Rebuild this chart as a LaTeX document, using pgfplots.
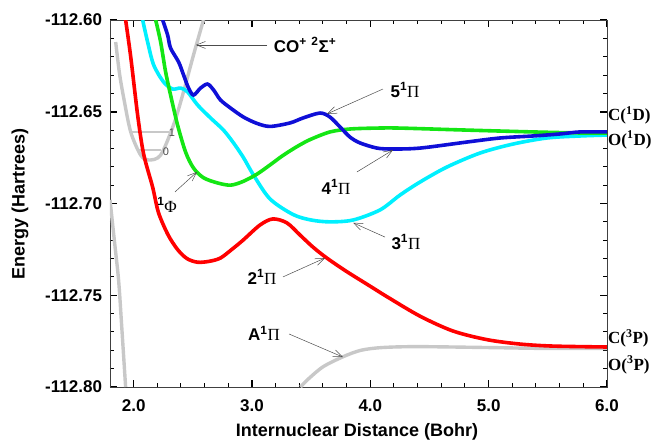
\documentclass[border=0pt]{standalone}
\usepackage{fontspec}
\setmainfont{Liberation Sans}
\newfontfamily\serif{Liberation Serif}
\usepackage{pgfplots}
\pgfplotsset{compat=1.18}
\usetikzlibrary{arrows.meta}

\definecolor{cred}{RGB}{255,0,0}
\definecolor{cgreen}{RGB}{20,230,20}
\definecolor{ccyan}{RGB}{0,240,255}
\definecolor{cblue}{RGB}{15,15,215}
\definecolor{cgray}{RGB}{200,200,200}

\tikzset{
  lbl/.style={font=\fontsize{17}{20}\selectfont, inner sep=0pt},
  arr/.style={draw=black!70, line width=0.5pt, -{Straight Barb[length=9pt,width=7pt]}},
  rlbl/.style={anchor=west, inner sep=0pt, font=\fontsize{17}{20}\selectfont\serif\bfseries},
}

\begin{document}
\begin{tikzpicture}
\useasboundingbox (-110pt,-58pt) rectangle (543pt,387pt);
\begin{axis}[
    scale only axis,
    width=497pt, height=367pt,
    at={(0,0)}, anchor=south west,
    xmin=1.8, xmax=6.0,
    ymin=-112.80, ymax=-112.60,
    xtick={2,3,4,5,6},
    xticklabels={2.0,3.0,4.0,5.0,6.0},
    ytick={-112.80,-112.75,-112.70,-112.65,-112.60},
    yticklabels={-112.80,-112.75,-112.70,-112.65,-112.60},
    minor x tick num=4,
    minor y tick num=4,
    tick align=inside,
    major tick length=7pt,
    minor tick length=4pt,
    major tick style={line width=1.5pt, black},
    minor tick style={line width=1pt, black},
    axis line style={line width=0.8pt, black!75},
    ticklabel style={font=\fontsize{17}{20}\selectfont\bfseries},
    yticklabel style={xshift=-4.5pt},
    xticklabel style={yshift=-9pt},
    xlabel={\bfseries Internuclear Distance (Bohr)},
    ylabel={\bfseries Energy (Hartrees)},
    label style={font=\fontsize{18}{21}\selectfont},
    xlabel style={at={(axis description cs:0.497,-0.1226)}, anchor=center},
    ylabel style={at={(axis description cs:-0.181,0.5)}, anchor=center},
    clip mode=individual,
    every axis plot/.append style={smooth, tension=0.5},
]

% ground state repulsive wall (left)
\addplot[cgray, line width=3.4pt] coordinates {
    (1.800,-112.698) (1.840,-112.722) (1.873,-112.742) (1.900,-112.768) (1.932,-112.800)
};

% CO+ 2Sigma+
\addplot[cgray, line width=3.4pt] coordinates {
    (1.848,-112.612) (1.880,-112.629) (1.916,-112.6425) (1.975,-112.661)
    (2.059,-112.6736) (2.127,-112.6763) (2.228,-112.6736) (2.338,-112.657)
    (2.422,-112.639) (2.506,-112.619) (2.590,-112.600)
};
% vibrational levels
\addplot[cgray, line width=2pt, sharp plot] coordinates {(1.975,-112.661) (2.300,-112.661)};
\addplot[cgray, line width=2pt, sharp plot] coordinates {(2.045,-112.671) (2.232,-112.671)};

% A1Pi
\addplot[cgray, line width=3.4pt] coordinates {
    (3.410,-112.800) (3.470,-112.796) (3.600,-112.789) (3.770,-112.7835)
    (3.920,-112.780) (4.100,-112.7785) (4.400,-112.778) (5.000,-112.7785)
    (5.500,-112.779) (6.000,-112.779)
};

% 3 1Pi (cyan)
\addplot[ccyan, line width=3.6pt] coordinates {
    (2.076,-112.600) (2.118,-112.612) (2.169,-112.6245) (2.253,-112.6338)
    (2.329,-112.6376) (2.397,-112.6371) (2.456,-112.6392) (2.540,-112.6463)
    (2.650,-112.6534) (2.759,-112.660) (2.844,-112.667) (2.928,-112.675)
    (3.013,-112.6845) (3.152,-112.6975) (3.347,-112.7060) (3.500,-112.7090)
    (3.659,-112.710) (3.854,-112.709) (4.082,-112.7035) (4.251,-112.6954)
    (4.420,-112.6883) (4.648,-112.6801) (4.927,-112.6725) (5.206,-112.6676)
    (5.493,-112.6643) (5.772,-112.6632) (6.000,-112.6627)
};

% 1Phi / 4 1Pi (green)
\addplot[cgreen, line width=3.6pt] coordinates {
    (2.186,-112.600) (2.228,-112.612) (2.270,-112.6283) (2.312,-112.6409)
    (2.371,-112.6572) (2.439,-112.672) (2.506,-112.6807) (2.591,-112.686)
    (2.709,-112.6888) (2.819,-112.690) (2.924,-112.6880) (3.042,-112.6840)
    (3.152,-112.6790) (3.262,-112.6738) (3.380,-112.6690) (3.490,-112.6652)
    (3.659,-112.661) (3.828,-112.6594) (4.056,-112.6589) (4.251,-112.6589)
    (4.817,-112.660) (5.375,-112.661) (5.797,-112.6616) (6.000,-112.6616)
};

% 5 1Pi (blue)
\addplot[cblue, line width=3.6pt] coordinates {
    (2.245,-112.600) (2.287,-112.6082) (2.312,-112.6153) (2.380,-112.6229)
    (2.422,-112.630) (2.464,-112.6371) (2.506,-112.6409) (2.565,-112.6371)
    (2.624,-112.6349) (2.675,-112.6381) (2.734,-112.6436) (2.819,-112.648)
    (2.928,-112.6529) (3.040,-112.6563) (3.152,-112.6580) (3.321,-112.6561)
    (3.431,-112.6534) (3.575,-112.6507) (3.659,-112.6529) (3.744,-112.6583)
    (3.828,-112.6638) (3.913,-112.667) (4.056,-112.6698) (4.192,-112.6703)
    (4.420,-112.6698) (4.817,-112.6665) (5.096,-112.6643) (5.375,-112.6632)
    (5.603,-112.6621) (5.772,-112.661) (6.000,-112.661)
};

% 2 1Pi (red)
\addplot[cred, line width=3.6pt] coordinates {
    (1.932,-112.600) (1.975,-112.620) (2.034,-112.652) (2.084,-112.673)
    (2.160,-112.691) (2.210,-112.705) (2.290,-112.717) (2.370,-112.725)
    (2.450,-112.730) (2.540,-112.732) (2.640,-112.7315) (2.734,-112.7297)
    (2.830,-112.725) (2.924,-112.720) (3.068,-112.7117) (3.177,-112.7084)
    (3.296,-112.7106) (3.406,-112.7172) (3.516,-112.7238) (3.634,-112.7298)
    (3.803,-112.7372) (3.997,-112.7450) (4.141,-112.7508) (4.420,-112.7614)
    (4.699,-112.7695) (4.986,-112.7742) (5.265,-112.7766) (5.544,-112.7777)
    (6.000,-112.7782)
};

% labels and arrows
\node[lbl] at (axis cs:3.448,-112.6136) {\bfseries CO\textsuperscript{+} \textsuperscript{2}Σ\textsuperscript{+}};
\draw[arr] (axis cs:3.127,-112.6136) -- (axis cs:2.525,-112.6136);

\node[lbl] at (axis cs:4.293,-112.6381) {\textbf{5\textsuperscript{1}}{\serif Π}};
\draw[arr] (axis cs:4.107,-112.6376) -- (axis cs:3.634,-112.6512);

\node[lbl] at (axis cs:3.710,-112.691) {\textbf{4\textsuperscript{1}}{\serif Π}};
\draw[arr] (axis cs:3.887,-112.6828) -- (axis cs:4.192,-112.6708);

\node[lbl] at (axis cs:4.301,-112.721) {\textbf{3\textsuperscript{1}}{\serif Π}};
\draw[arr] (axis cs:4.124,-112.7183) -- (axis cs:3.854,-112.7105);

\node[lbl] at (axis cs:3.085,-112.740) {\textbf{2\textsuperscript{1}}{\serif Π}};
\draw[arr] (axis cs:3.262,-112.740) -- (axis cs:3.617,-112.7297);

\node[lbl] at (axis cs:3.101,-112.7706) {\textbf{A\textsuperscript{1}}{\serif Π}};
\draw[arr] (axis cs:3.313,-112.7711) -- (axis cs:3.769,-112.7837);

\node[lbl] at (axis cs:2.282,-112.7008) {\textbf{\textsuperscript{1}}{\serif Φ}};
\draw[arr] (axis cs:2.349,-112.6937) -- (axis cs:2.535,-112.6828);

\node[font=\fontsize{11}{12}\selectfont, text=black!70, inner sep=0pt] at (axis cs:2.324,-112.6616) {1};
\node[font=\fontsize{11}{12}\selectfont, text=black!70, inner sep=0pt] at (axis cs:2.273,-112.672) {0};

\node[rlbl] at (axis cs:6.0,-112.6518) {\kern1pt C(\textsuperscript{1}D)};
\node[rlbl] at (axis cs:6.0,-112.6654) {\kern1pt O(\textsuperscript{1}D)};
\node[rlbl] at (axis cs:6.0,-112.7733) {\kern1pt C(\textsuperscript{3}P)};
\node[rlbl] at (axis cs:6.0,-112.788) {\kern1pt O(\textsuperscript{3}P)};

\end{axis}
\end{tikzpicture}
\end{document}
